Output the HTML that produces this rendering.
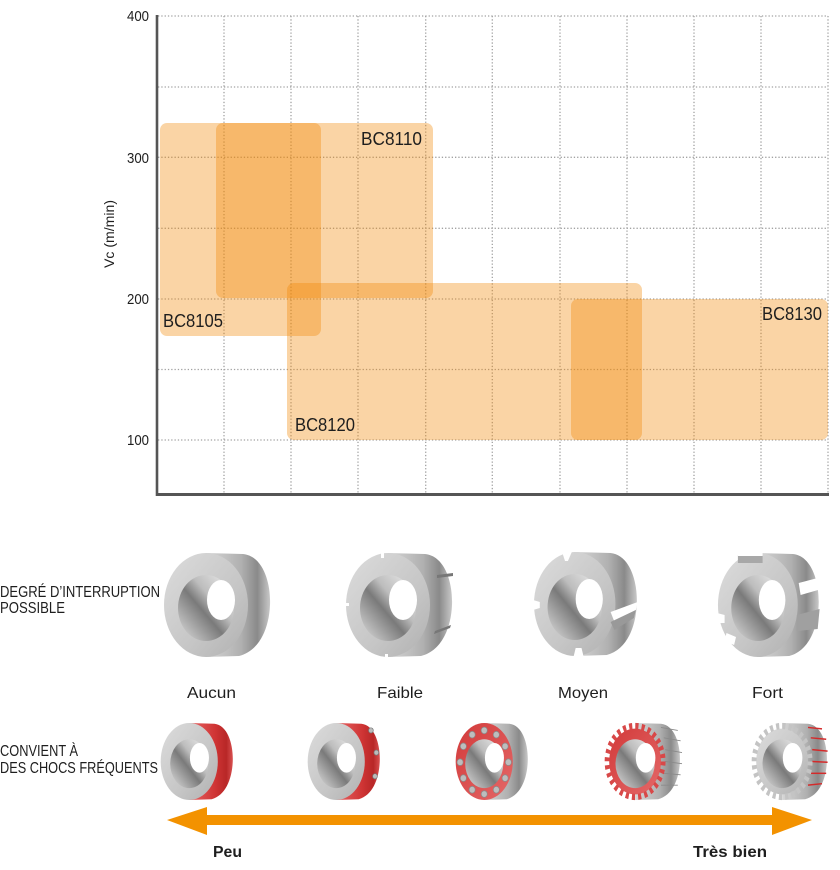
<!DOCTYPE html>
<html>
<head>
<meta charset="utf-8">
<style>
html,body{margin:0;padding:0;background:#fff;width:840px;height:870px;overflow:hidden}
svg{display:block}
text{font-family:"Liberation Sans",sans-serif;fill:#1e1e1e}
</style>
</head>
<body>
<svg width="840" height="870" viewBox="0 0 840 870" xmlns="http://www.w3.org/2000/svg">
<defs>
  <linearGradient id="face" x1="0" y1="0" x2="1" y2="1">
    <stop offset="0" stop-color="#dcdcdc"/>
    <stop offset="0.6" stop-color="#c6c6c6"/>
    <stop offset="1" stop-color="#b0b0b0"/>
  </linearGradient>
  <linearGradient id="body" x1="0" y1="0" x2="1" y2="0">
    <stop offset="0" stop-color="#d6d6d6"/>
    <stop offset="0.55" stop-color="#b0b0b0"/>
    <stop offset="0.8" stop-color="#8a8a8a"/>
    <stop offset="1" stop-color="#c8c8c8"/>
  </linearGradient>
  <linearGradient id="bore" x1="0" y1="1" x2="1" y2="0">
    <stop offset="0" stop-color="#e2e2e2"/>
    <stop offset="0.45" stop-color="#7a7a7a"/>
    <stop offset="0.62" stop-color="#bdbdbd"/>
    <stop offset="1" stop-color="#efefef"/>
  </linearGradient>
  <linearGradient id="redbody" x1="0" y1="0" x2="1" y2="0">
    <stop offset="0" stop-color="#e66464"/>
    <stop offset="0.6" stop-color="#cf3434"/>
    <stop offset="0.85" stop-color="#b82727"/>
    <stop offset="1" stop-color="#d85050"/>
  </linearGradient>
  <linearGradient id="redface" x1="0" y1="0" x2="1" y2="1">
    <stop offset="0" stop-color="#d23a3a"/>
    <stop offset="1" stop-color="#e46868"/>
  </linearGradient>
  <path id="bodyShape" d="M43,0 L80,1 C100,3 108,30 107,52 C106,76 96,98 76,103 L43,104 Z"/>
  <g id="inner">
    <ellipse cx="43" cy="55" rx="28" ry="33" fill="url(#bore)"/>
    <ellipse cx="58" cy="47" rx="14" ry="20" fill="#ffffff"/>
  </g>
  <g id="ringG">
    <use href="#bodyShape" fill="url(#body)"/>
    <ellipse cx="43" cy="52" rx="42" ry="52" fill="url(#face)"/>
    <use href="#inner"/>
  </g>
  <g id="ringR">
    <use href="#bodyShape" fill="url(#redbody)"/>
    <ellipse cx="43" cy="52" rx="42" ry="52" fill="url(#face)"/>
    <use href="#inner"/>
  </g>
</defs>

<!-- grid -->
<g stroke="#a2a2a2" stroke-width="1.3" stroke-dasharray="1.3 2" fill="none">
  <line x1="158" y1="16" x2="828" y2="16"/>
  <line x1="158" y1="87" x2="828" y2="87"/>
  <line x1="158" y1="157.3" x2="828" y2="157.3"/>
  <line x1="158" y1="228.3" x2="828" y2="228.3"/>
  <line x1="158" y1="299" x2="828" y2="299"/>
  <line x1="158" y1="369.5" x2="828" y2="369.5"/>
  <line x1="158" y1="440" x2="828" y2="440"/>
  <line x1="224" y1="16" x2="224" y2="494"/>
  <line x1="291" y1="16" x2="291" y2="494"/>
  <line x1="358" y1="16" x2="358" y2="494"/>
  <line x1="425.7" y1="16" x2="425.7" y2="494"/>
  <line x1="492.3" y1="16" x2="492.3" y2="494"/>
  <line x1="560" y1="16" x2="560" y2="494"/>
  <line x1="627" y1="16" x2="627" y2="494"/>
  <line x1="694" y1="16" x2="694" y2="494"/>
  <line x1="761" y1="16" x2="761" y2="494"/>
  <line x1="828" y1="16" x2="828" y2="494"/>
</g>

<!-- zones -->
<g fill="rgb(242,135,5)" fill-opacity="0.36">
  <rect x="160" y="123" width="161" height="213" rx="7"/>
  <rect x="216" y="123" width="217" height="175" rx="7"/>
  <rect x="287" y="283" width="355" height="157" rx="7"/>
  <rect x="571" y="299" width="257" height="141" rx="7"/>
</g>

<!-- axes -->
<line x1="157" y1="15" x2="157" y2="496" stroke="#555" stroke-width="2.6"/>
<line x1="156" y1="494.5" x2="829" y2="494.5" stroke="#555" stroke-width="3"/>

<!-- tick labels -->
<g font-size="15">
  <text x="127" y="21" textLength="22" lengthAdjust="spacingAndGlyphs">400</text>
  <text x="127" y="163" textLength="22" lengthAdjust="spacingAndGlyphs">300</text>
  <text x="127" y="304" textLength="22" lengthAdjust="spacingAndGlyphs">200</text>
  <text x="127" y="445" textLength="22" lengthAdjust="spacingAndGlyphs">100</text>
</g>
<text transform="translate(114,268) rotate(-90)" font-size="14" textLength="68" lengthAdjust="spacingAndGlyphs">Vc (m/min)</text>

<!-- zone labels -->
<g font-size="18">
  <text x="163" y="327" textLength="60" lengthAdjust="spacingAndGlyphs">BC8105</text>
  <text x="361" y="145" textLength="61" lengthAdjust="spacingAndGlyphs">BC8110</text>
  <text x="295" y="431" textLength="60" lengthAdjust="spacingAndGlyphs">BC8120</text>
  <text x="762" y="320" textLength="60" lengthAdjust="spacingAndGlyphs">BC8130</text>
</g>

<!-- row labels -->
<g font-size="16">
  <text x="0" y="597" textLength="160" lengthAdjust="spacingAndGlyphs">DEGRÉ D’INTERRUPTION</text>
  <text x="0" y="613" textLength="65" lengthAdjust="spacingAndGlyphs">POSSIBLE</text>
  <text x="0" y="756" textLength="78" lengthAdjust="spacingAndGlyphs">CONVIENT À</text>
  <text x="0" y="773" textLength="158" lengthAdjust="spacingAndGlyphs">DES CHOCS FRÉQUENTS</text>
</g>

<!-- row 1 parts -->
<use href="#ringG" transform="translate(163,553)"/>
<g transform="translate(345,553)">
  <use href="#ringG"/>
  <rect x="36" y="0" width="3" height="5" fill="#fff"/>
  <path d="M92,22 L108,20 L108,23 L92,25 Z" fill="#777"/>
  <path d="M90,78 L106,72 L105,75 L89,81 Z" fill="#777"/>
  <rect x="0" y="50" width="4" height="3" fill="#fff"/>
  <rect x="40" y="101" width="3" height="4" fill="#fff"/>
</g>
<g transform="translate(533,552) scale(0.97,1)">
  <use href="#ringG"/>
  <path d="M30,0 L40,0 L36,9 L33,9 Z" fill="#fff"/>
  <path d="M0,48 L7,50 L7,56 L0,58 Z" fill="#fff"/>
  <path d="M42,104 L44,96 L50,96 L52,104 Z" fill="#fff"/>
  <path d="M80,60 L108,50 L106,58 L84,70 Z" fill="#fff"/>
  <path d="M80,70 L106,58 L104,66 L84,78 Z" fill="#999"/>
</g>
<g transform="translate(717,553) scale(0.95,1)">
  <use href="#ringG"/>
  <rect x="22" y="2" width="26" height="8" fill="#a8a8a8"/>
  <rect x="22" y="0" width="26" height="3" fill="#fff"/>
  <path d="M86,30 L110,24 L110,36 L88,42 Z" fill="#fff"/>
  <path d="M84,62 L108,56 L106,76 L84,78 Z" fill="#a0a0a0"/>
  <path d="M0,60 L8,62 L8,70 L0,70 Z" fill="#fff"/>
  <path d="M10,80 L20,84 L18,92 L8,88 Z" fill="#fff"/>
</g>

<!-- row 1 labels -->
<g font-size="16">
  <text x="187" y="698" textLength="49" lengthAdjust="spacingAndGlyphs">Aucun</text>
  <text x="377" y="698" textLength="46" lengthAdjust="spacingAndGlyphs">Faible</text>
  <text x="558" y="698" textLength="50" lengthAdjust="spacingAndGlyphs">Moyen</text>
  <text x="752" y="698" textLength="31" lengthAdjust="spacingAndGlyphs">Fort</text>
</g>

<!-- row 2 parts -->
<use href="#ringR" transform="translate(160,723) scale(0.68,0.74)"/>
<g transform="translate(307,723) scale(0.68,0.74)">
  <use href="#ringR"/>
  <g fill="#bbb" stroke="#777" stroke-width="1">
    <circle cx="94" cy="10" r="3.5"/>
    <circle cx="102" cy="40" r="3.5"/>
    <circle cx="100" cy="72" r="3.5"/>
  </g>
</g>
<g transform="translate(455,723) scale(0.68,0.74)">
  <use href="#bodyShape" fill="url(#body)"/>
  <ellipse cx="43" cy="52" rx="42" ry="52" fill="url(#redface)"/>
  <use href="#inner"/>
  <g fill="#bdbdbd" stroke="#8a8a8a" stroke-width="1">
    <circle cx="78.5" cy="53" r="4.5"/>
    <circle cx="73.7" cy="74.5" r="4.5"/>
    <circle cx="60.75" cy="90.2" r="4.5"/>
    <circle cx="43" cy="96" r="4.5"/>
    <circle cx="25.25" cy="90.2" r="4.5"/>
    <circle cx="12.3" cy="74.5" r="4.5"/>
    <circle cx="7.5" cy="53" r="4.5"/>
    <circle cx="12.3" cy="31.5" r="4.5"/>
    <circle cx="25.25" cy="15.8" r="4.5"/>
    <circle cx="43" cy="10" r="4.5"/>
    <circle cx="60.75" cy="15.8" r="4.5"/>
    <circle cx="73.7" cy="31.5" r="4.5"/>
  </g>
</g>
<g transform="translate(605,723) scale(0.7,0.74)">
  <use href="#bodyShape" fill="url(#body)"/>
  <g stroke="#8a8a8a" stroke-width="1.2">
    <line x1="80" y1="6" x2="104" y2="10"/>
    <line x1="84" y1="20" x2="108" y2="24"/>
    <line x1="86" y1="36" x2="110" y2="40"/>
    <line x1="86" y1="52" x2="110" y2="55"/>
    <line x1="84" y1="68" x2="108" y2="70"/>
    <line x1="80" y1="84" x2="104" y2="84"/>
  </g>
  <g transform="translate(43,52) scale(1,1.2)" fill="url(#redface)">
    <circle r="37"/>
    <circle r="40" fill="none" stroke="#d84848" stroke-width="7" stroke-dasharray="4.49 4.49"/>
  </g>
  <use href="#inner"/>
</g>
<g transform="translate(752,723) scale(0.7,0.74)">
  <use href="#bodyShape" fill="url(#body)"/>
  <g stroke="#d42a2a" stroke-width="2">
    <line x1="80" y1="6" x2="100" y2="8"/>
    <line x1="84" y1="20" x2="106" y2="22"/>
    <line x1="86" y1="36" x2="108" y2="38"/>
    <line x1="86" y1="52" x2="108" y2="53"/>
    <line x1="84" y1="68" x2="106" y2="68"/>
    <line x1="80" y1="84" x2="100" y2="82"/>
  </g>
  <g transform="translate(43,52) scale(1,1.2)" fill="url(#face)">
    <circle r="37"/>
    <circle r="40" fill="none" stroke="#c4c4c4" stroke-width="7" stroke-dasharray="4.49 4.49"/>
  </g>
  <use href="#inner"/>
</g>

<!-- arrow -->
<g fill="#f39200">
  <rect x="204" y="815" width="570" height="10"/>
  <polygon points="167,820 207,807 207,835"/>
  <polygon points="812,820 772,807 772,835"/>
</g>

<g font-size="16" font-weight="bold">
  <text x="213" y="857" textLength="29" lengthAdjust="spacingAndGlyphs">Peu</text>
  <text x="693" y="857" textLength="74" lengthAdjust="spacingAndGlyphs">Très bien</text>
</g>
</svg>
</body>
</html>
